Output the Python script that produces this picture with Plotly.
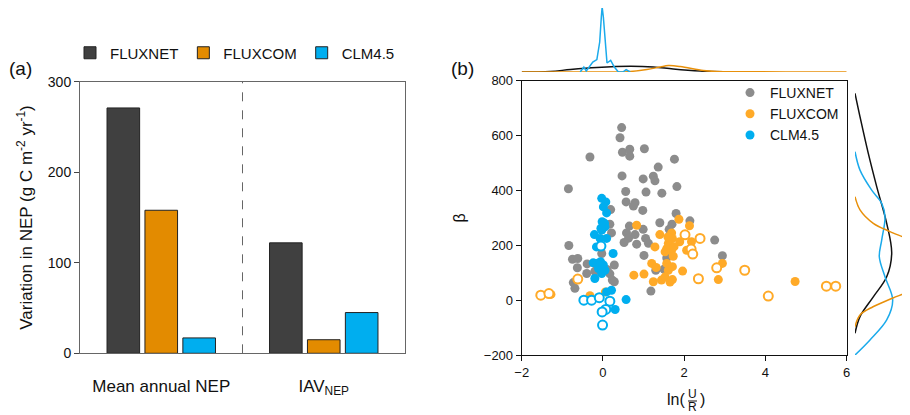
import plotly.graph_objects as go

# ---- panel (a): variation in NEP ----
groups = ["Mean annual NEP", "IAV<sub>NEP</sub>"]
nep_fluxnet = [271, 122]
nep_fluxcom = [158, 15]
nep_clm = [17, 45]

# ---- panel (b): ln(U/R) vs beta, filled and open points ----
fluxnet_x = [0.46, 0.42, 0.48, 0.66, 0.66, 1.02, -0.32, 1.76, 1.36, 1.24, 1.28, 0.99, 0.47, -0.85,
             0.56, 1.06, 1.45, 1.82, 0.57, 0.79, 0.75, 0.98, 0.19, 1.80, 2.14, 1.40, 0.17, 0.65,
             1.70, 0.21, 0.58, 0.99, 1.63, 0.79, 0.63, 0.83, 0.52, 1.05, 1.12, -0.84, 2.75, 2.94,
             -0.75, -0.62, -0.63, 1.01, -0.03, -0.39, 0.28, -0.40, 0.17, 0.23, 0.28, -0.73, -0.69,
             1.18, 1.57, 1.30, 1.50, 0.10, -0.20]
fluxnet_y = [629, 592, 539, 550, 525, 552, 522, 514, 485, 452, 435, 442, 453, 406,
             396, 394, 390, 414, 358, 355, 343, 327, 330, 316, 289, 282, 277, 270,
             277, 245, 245, 258, 258, 239, 226, 204, 210, 225, 207, 199, 219, 162,
             149, 152, 118, 163, 170, 132, 128, 97, 96, 73, 67, 64, 43,
             33, 154, 109, 113, 112, 105]

fluxcom_x = [0.83, 1.40, 1.87, 2.13, 1.69, 1.71, 1.61, 1.57, 1.53, 1.69, 1.73, 1.89, 2.06, 2.18,
             1.28, 1.20, 1.31, 1.57, 1.61, 1.71, 1.96, 0.76, 1.01, 1.24, 1.44, 1.53, 1.65, 1.71,
             2.84, 2.94, 4.73, -0.32, 0.06, -1.28, 1.65, 1.75, 1.60]
fluxcom_y = [273, 239, 295, 271, 245, 225, 207, 188, 176, 182, 160, 213, 182, 213,
             194, 134, 119, 134, 109, 122, 106, 91, 95, 67, 73, 85, 66, 75,
             75, 134, 68, 16, 30, 21, 200, 195, 230]
fluxcom_open_x = [-1.53, -1.33, -0.62, 2.02, 2.39, 2.17, 2.21, 2.35, 2.80, 3.49, 4.07, 5.50, 5.73]
fluxcom_open_y = [18, 24, 77, 238, 225, 186, 168, 78, 118, 109, 15, 51, 51]

clm_x = [-0.03, 0.07, 0.01, 0.09, -0.02, 0.05, -0.03, -0.21, -0.16, -0.07, 0.09, 0.25, -0.24,
         -0.16, 0.01, 0.05, -0.03, -0.20, 0.09, 0.21, 0.30, 0.57, -0.11, -0.06, 0.04, -0.05]
clm_y = [371, 358, 340, 318, 286, 267, 255, 239, 194, 225, 225, 170, 136,
         134, 128, 109, 97, 79, 30, 36, -34, 2, 115, 140, 280, 262]
clm_open_x = [-0.05, -0.47, -0.28, -0.09, 0.17, 0.07, -0.02, -0.01]
clm_open_y = [197, 0, 0, 9, -4, -34, -43, -91]

# marginal densities (arbitrary units)
top_clm_x = [-0.56, -0.47, -0.41, -0.34, -0.25, -0.15, -0.08, -0.04, -0.02, 0.01, 0.05, 0.10,
             0.19, 0.28, 0.38, 0.49, 0.57, 0.67]
top_clm_d = [0, 5, 1, 5, 10, 12.4, 30, 55, 65, 55, 30, 9, 11.7, 5, 0, 0, 2.4, 0]
top_fluxnet_x = [-2, -1.3, -0.8, -0.15, 0.67, 1.24, 1.73, 2.4, 2.96, 3.86]
top_fluxnet_d = [0, 0.5, 2.5, 4.5, 5.7, 5, 3, 1, 0.2, 0]
top_fluxcom_x = [-2, 0, 0.6, 1.08, 1.41, 1.61, 1.90, 2.47, 2.8, 3.4, 4.5, 6]
top_fluxcom_d = [0, 0, 0.3, 2.5, 5, 6.4, 5.5, 1.5, 0.5, 0.2, 0.1, 0.1]

right_fluxnet_y = [754, 657, 535, 414, 280, 171, 85, 12, -60, -121]
right_fluxnet_d = [0, 5.7, 13.3, 21.7, 31.7, 36.7, 31.7, 18.3, 5, 0]
right_clm_y = [541, 474, 401, 353, 304, 219, 158, 85, 0, -72, -145, -200]
right_clm_d = [0, 5, 16.7, 26.7, 30, 26.7, 24.3, 30, 37.7, 31.7, 15, 0]
right_fluxcom_y = [377, 329, 280, 250, 219, 200, 175, 140, 103, 75, 37, 8, -24, -54, -97]
right_fluxcom_d = [0, 5, 18.3, 35, 55, 62, 55, 47.7, 55, 60, 55, 38, 18, 5, 0]

FONT = "Liberation Sans, Arial, sans-serif"
# the page body has an 8px margin, so the figure is a bit smaller than the window
OFF = 8
W, H = 910 - OFF, 415 - OFF

def px(x):
    return (x - OFF) / W

def py(y):
    return min(1.0, 1 - (y - OFF) / H)

fig = go.Figure()

# bars
bar_colors = {"FLUXNET": "#404040", "FLUXCOM": "#E38B00", "CLM4.5": "#00AEEF"}
for name, vals in [("FLUXNET", nep_fluxnet), ("FLUXCOM", nep_fluxcom), ("CLM4.5", nep_clm)]:
    fig.add_trace(go.Bar(x=groups, y=vals, name=name, marker_color=bar_colors[name],
                         marker_line=dict(color="#222", width=1), legend="legend",
                         xaxis="x", yaxis="y"))

# scatter
pt_gray, pt_orange, pt_blue = "#8C8C8C", "#FFAA28", "#00AEEF"
fig.add_trace(go.Scatter(x=fluxnet_x, y=fluxnet_y, mode="markers", name="FLUXNET",
                         marker=dict(color=pt_gray, size=9), legend="legend2", xaxis="x2", yaxis="y2"))
fig.add_trace(go.Scatter(x=fluxcom_x, y=fluxcom_y, mode="markers", name="FLUXCOM",
                         marker=dict(color=pt_orange, size=9), legend="legend2", xaxis="x2", yaxis="y2"))
fig.add_trace(go.Scatter(x=fluxcom_open_x, y=fluxcom_open_y, mode="markers", showlegend=False,
                         marker=dict(color="white", size=9, line=dict(color=pt_orange, width=2)),
                         xaxis="x2", yaxis="y2"))
fig.add_trace(go.Scatter(x=clm_x, y=clm_y, mode="markers", name="CLM4.5",
                         marker=dict(color=pt_blue, size=9), legend="legend2", xaxis="x2", yaxis="y2"))
fig.add_trace(go.Scatter(x=clm_open_x, y=clm_open_y, mode="markers", showlegend=False,
                         marker=dict(color="white", size=9, line=dict(color=pt_blue, width=2)),
                         xaxis="x2", yaxis="y2"))

# marginal densities
ln_black, ln_orange, ln_blue = "#111111", "#E8900A", "#1AAAEB"
fig.add_trace(go.Scatter(x=top_fluxnet_x, y=top_fluxnet_d, mode="lines", line=dict(color=ln_black, width=1.5, shape="spline"),
                         showlegend=False, xaxis="x3", yaxis="y3"))
fig.add_trace(go.Scatter(x=top_fluxcom_x, y=top_fluxcom_d, mode="lines", line=dict(color=ln_orange, width=1.5, shape="spline"),
                         showlegend=False, xaxis="x3", yaxis="y3"))
fig.add_trace(go.Scatter(x=top_clm_x, y=top_clm_d, mode="lines", line=dict(color=ln_blue, width=1.5),
                         showlegend=False, xaxis="x3", yaxis="y3"))
fig.add_trace(go.Scatter(x=right_fluxnet_d, y=right_fluxnet_y, mode="lines", line=dict(color=ln_black, width=1.5, shape="spline"),
                         showlegend=False, xaxis="x4", yaxis="y4"))
fig.add_trace(go.Scatter(x=right_clm_d, y=right_clm_y, mode="lines", line=dict(color=ln_blue, width=1.5, shape="spline"),
                         showlegend=False, xaxis="x4", yaxis="y4"))
fig.add_trace(go.Scatter(x=right_fluxcom_d, y=right_fluxcom_y, mode="lines", line=dict(color=ln_orange, width=1.5, shape="spline"),
                         showlegend=False, xaxis="x4", yaxis="y4"))

tickfont = dict(family=FONT, size=13, color="#111")
axis_common = dict(showgrid=False, zeroline=False, automargin=False, ticks="outside", ticklen=5,
                   tickfont=tickfont, showline=True, mirror=True)
hidden = dict(showgrid=False, zeroline=False, showline=False, ticks="", showticklabels=False)

fig.update_layout(
    width=W, height=H,
    margin=dict(l=0, r=0, t=0, b=0),
    paper_bgcolor="white", plot_bgcolor="white",
    font=dict(family=FONT, color="#111"),
    barmode="group", bargap=0.3, bargroupgap=0.14,
    xaxis=dict(axis_common, domain=[px(80), px(405)], anchor="y", ticks="", linecolor="#666",
               tickfont=dict(family=FONT, size=17, color="#111"), ticklabelstandoff=17),
    yaxis=dict(axis_common, domain=[py(353.3), py(81.7)], anchor="x", range=[0, 300], dtick=100,
               linecolor="#666", tickcolor="#444", tickfont=dict(family=FONT, size=14, color="#111"),
               title=dict(text="Variation in NEP (g C m<sup>-2</sup> yr<sup>-1</sup>)",
                          font=dict(family=FONT, size=17), standoff=10)),
    xaxis2=dict(axis_common, domain=[px(521.7), px(846.7)], anchor="y2", range=[-2, 6], dtick=2,
                linecolor="#111", tickcolor="#111"),
    yaxis2=dict(axis_common, domain=[py(355), py(80.7)], anchor="x2", range=[-200, 800], dtick=200,
                linecolor="#111", tickcolor="#111",
                title=dict(text="β", font=dict(family=FONT, size=16), standoff=14)),
    xaxis3=dict(hidden, domain=[px(521.7), px(846.7)], anchor="y3", range=[-2, 6]),
    yaxis3=dict(hidden, domain=[py(72), py(6)], anchor="x3", range=[0, 64]),
    xaxis4=dict(hidden, domain=[px(855), 1.0], anchor="y4", range=[0, 55]),
    yaxis4=dict(hidden, domain=[py(355), py(80.7)], anchor="x4", range=[-200, 800]),
    legend=dict(orientation="h", x=px(70), y=py(53), xanchor="left", yanchor="middle",
                font=dict(family=FONT, size=15), bgcolor="rgba(0,0,0,0)"),
    legend2=dict(x=px(730), y=py(77), xanchor="left", yanchor="top", tracegroupgap=0,
                 font=dict(family=FONT, size=14), bgcolor="rgba(0,0,0,0)"),
)

# dashed divider between the two bar groups
fig.add_shape(type="line", xref="x", yref="y domain", x0=0.5, x1=0.5, y0=0, y1=1,
              line=dict(color="#666", width=1, dash="dash"))

# panel labels
fig.add_annotation(text="(a)", x=px(7), y=py(68), xref="paper", yref="paper", xanchor="left",
                   yanchor="middle", showarrow=False, font=dict(family=FONT, size=19))
fig.add_annotation(text="(b)", x=px(449), y=py(68), xref="paper", yref="paper", xanchor="left",
                   yanchor="middle", showarrow=False, font=dict(family=FONT, size=19))

# x title of (b): ln(U/R) written as a stacked fraction
fig.add_annotation(text="ln(", x=px(687), y=py(399), xref="paper", yref="paper", xanchor="right",
                   yanchor="middle", showarrow=False, font=dict(family=FONT, size=16))
fig.add_annotation(text="U", x=px(692.5), y=py(394), xref="paper", yref="paper", xanchor="center",
                   yanchor="middle", showarrow=False, font=dict(family=FONT, size=12))
fig.add_annotation(text="R", x=px(692.5), y=py(407), xref="paper", yref="paper", xanchor="center",
                   yanchor="middle", showarrow=False, font=dict(family=FONT, size=12))
fig.add_annotation(text=")", x=px(698), y=py(399), xref="paper", yref="paper", xanchor="left",
                   yanchor="middle", showarrow=False, font=dict(family=FONT, size=16))
fig.add_shape(type="line", xref="paper", yref="paper", x0=px(688), x1=px(697), y0=py(401), y1=py(401),
              line=dict(color="#111", width=1))

fig.write_html("out.html")
